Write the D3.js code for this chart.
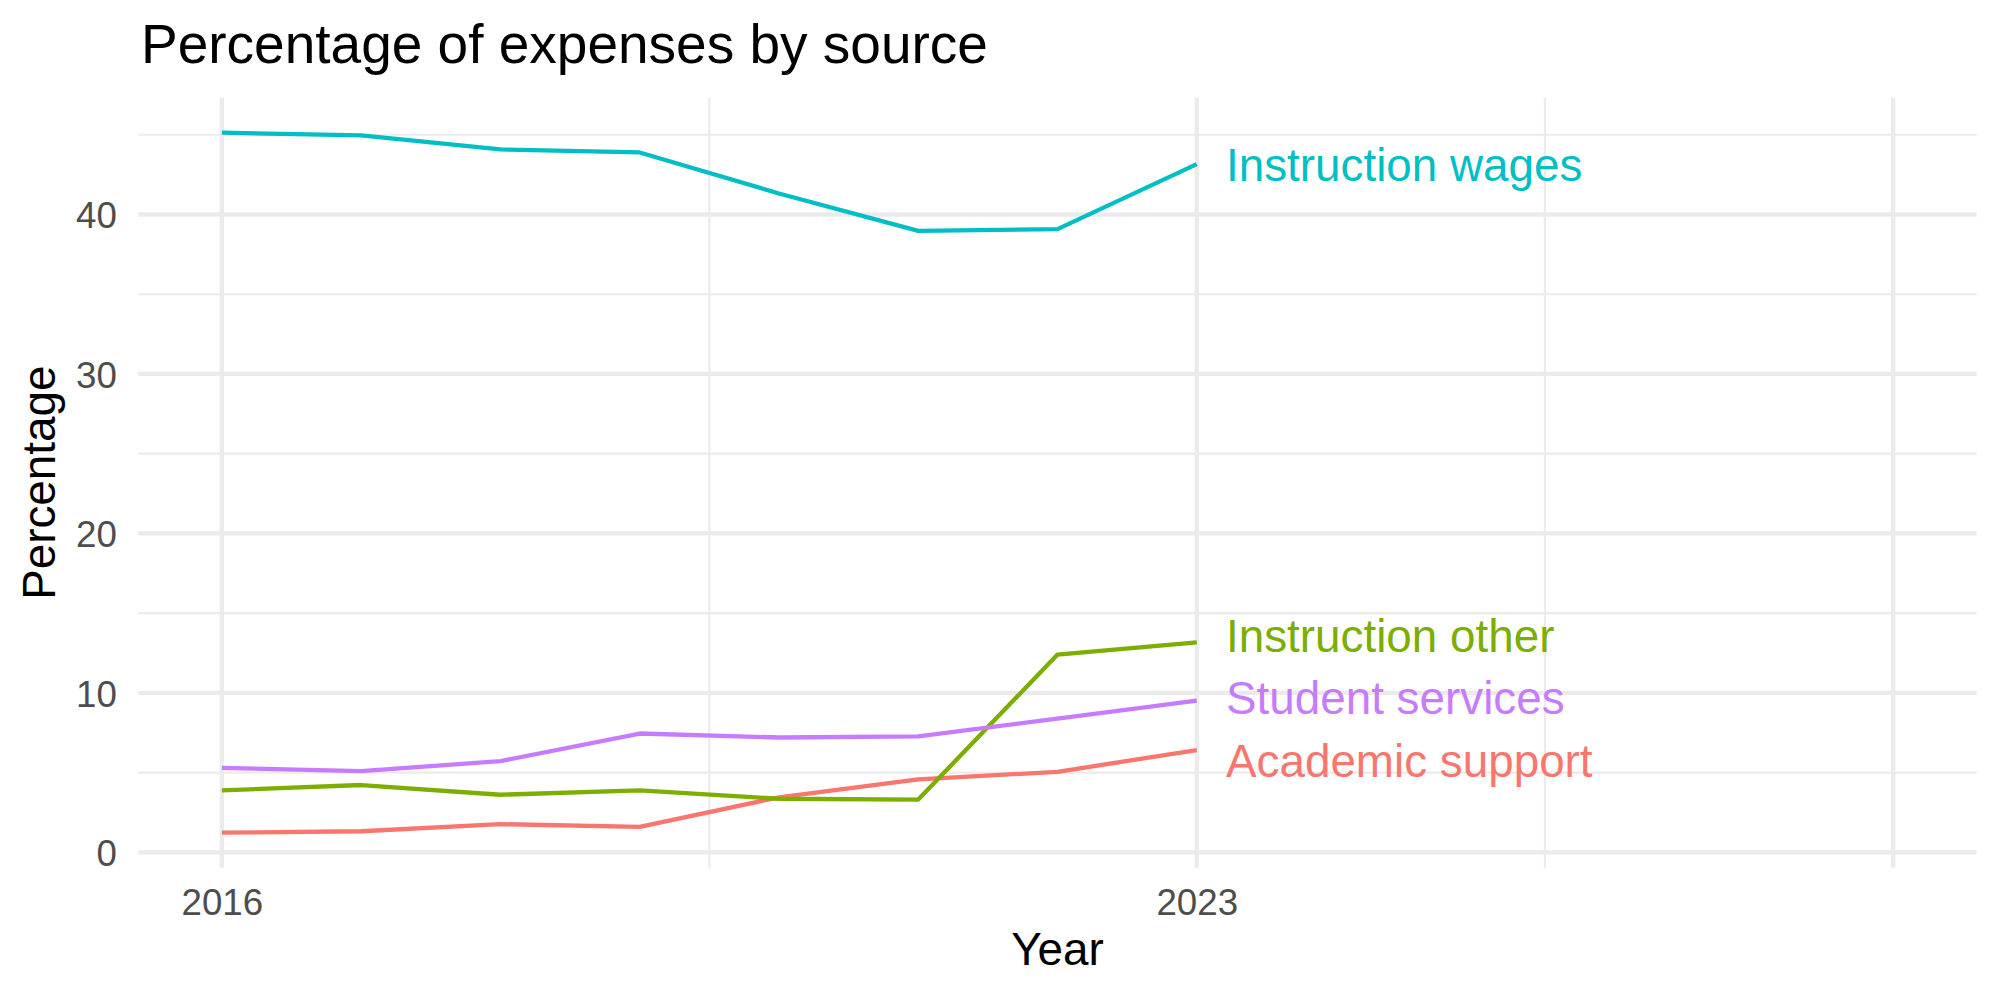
<!DOCTYPE html>
<html>
<head>
<meta charset="utf-8">
<script src="https://cdn.jsdelivr.net/npm/d3@7"></script>
<style>
  body { margin: 0; background: #fff; }
  text { font-family: "Liberation Sans", Arial, Helvetica, sans-serif; }
</style>
</head>
<body>
<div id="chart"></div>
<script>
/* expenses line chart */

// data
var years = [2016, 2017, 2018, 2019, 2020, 2021, 2022, 2023];
var sources = ["Academic support", "Instruction other", "Instruction wages", "Student services"];
var academicSupport  = [1.23, 1.32, 1.77, 1.59, 3.45, 4.57, 5.05, 6.41];
var instructionOther = [3.88, 4.22, 3.61, 3.88, 3.36, 3.31, 12.40, 13.17];
var instructionWages = [45.13, 44.96, 44.08, 43.89, 41.32, 38.97, 39.08, 43.16];
var studentServices  = [5.30, 5.09, 5.72, 7.45, 7.20, 7.27, 8.39, 9.52];
// where the end labels sit (percentage units)
var labelValues = [5.77, 13.6, 43.15, 9.73];
var labelYear = 2023.21;

var xMajor = [2016, 2023, 2028];
var xLabels = ["2016", "2023", ""];
var xMinor = [2019.5, 2025.5];
var yMajor = [0, 10, 20, 30, 40];
var yMinor = [5, 15, 25, 35, 45];

var colors = ["#F8766D", "#7CAE00", "#00BFC4", "#C77CFF"];

var seriesValues = [academicSupport, instructionOther, instructionWages, studentServices];
var series = sources.map(function (name, i) {
  return {
    name: name,
    color: colors[i],
    label: labelValues[i],
    values: years.map(function (yr, j) { return {year: yr, value: seriesValues[i][j]}; })
  };
});

// layout
var width = 2000, height = 1000;
var margin = {top: 97.7, right: 23.3, bottom: 132.3, left: 138.3};
var innerW = width - margin.left - margin.right,
    innerH = height - margin.top - margin.bottom;

var svg = d3.select("#chart").append("svg")
    .attr("width", width)
    .attr("height", height)
    .style("background", "#fff");

var g = svg.append("g")
    .attr("transform", "translate(" + margin.left + "," + margin.top + ")");

// scales, with ggplot style 5% expansion
var xExt = [2016, 2028];
var xPad = (xExt[1] - xExt[0]) * 0.05;
var x = d3.scaleLinear()
    .domain([xExt[0] - xPad, xExt[1] + xPad])
    .range([0, innerW]);

var allVals = d3.merge(seriesValues);
var yExt = d3.extent(allVals);
var yPad = (yExt[1] - yExt[0]) * 0.05;
var y = d3.scaleLinear()
    .domain([yExt[0] - yPad, yExt[1] + yPad])
    .range([innerH, 0]);

// grid
g.selectAll(".y-minor").data(yMinor).enter().append("line")
    .attr("x1", 0).attr("x2", innerW)
    .attr("y1", function (d) { return y(d); })
    .attr("y2", function (d) { return y(d); })
    .style("stroke", "#EBEBEB").style("stroke-width", 2.2);

g.selectAll(".x-minor").data(xMinor).enter().append("line")
    .attr("y1", 0).attr("y2", innerH)
    .attr("x1", function (d) { return x(d); })
    .attr("x2", function (d) { return x(d); })
    .style("stroke", "#EBEBEB").style("stroke-width", 2.2);

g.selectAll(".y-major").data(yMajor).enter().append("line")
    .attr("x1", 0).attr("x2", innerW)
    .attr("y1", function (d) { return y(d); })
    .attr("y2", function (d) { return y(d); })
    .style("stroke", "#EBEBEB").style("stroke-width", 4.3);

g.selectAll(".x-major").data(xMajor).enter().append("line")
    .attr("y1", 0).attr("y2", innerH)
    .attr("x1", function (d) { return x(d); })
    .attr("x2", function (d) { return x(d); })
    .style("stroke", "#EBEBEB").style("stroke-width", 4.3);

// axes (labels only)
var xAxis = g.append("g")
    .attr("transform", "translate(0," + innerH + ")")
    .call(d3.axisBottom(x).tickValues(xMajor)
      .tickFormat(function (d, i) { return xLabels[i]; })
      .tickSize(0).tickPadding(21.3));

var yAxis = g.append("g")
    .call(d3.axisLeft(y).tickValues(yMajor).tickSize(0).tickPadding(21.5));

[xAxis, yAxis].forEach(function (ax) {
  ax.select(".domain").remove();
  ax.selectAll("text")
    .attr("fill", "#4D4D4D")
    .style("font-size", "36.7px")
    .attr("font-family", null);
});
yAxis.selectAll("text").attr("dy", "0.36em");

// lines
var line = d3.line()
    .x(function (d) { return x(d.year); })
    .y(function (d) { return y(d.value); });

g.selectAll(".series").data(series).enter().append("path")
    .attr("class", "series")
    .attr("d", function (d) { return line(d.values); })
    .style("fill", "none")
    .style("stroke", function (d) { return d.color; })
    .style("stroke-width", 4.3)
    .style("stroke-linejoin", "round");

// end labels
g.selectAll(".end-label").data(series).enter().append("text")
    .attr("class", "end-label")
    .attr("x", x(labelYear))
    .attr("y", function (d) { return y(d.label); })
    .attr("dy", "0.36em")
    .attr("fill", function (d) { return d.color; })
    .style("font-size", "45.8px")
    .text(function (d) { return d.name; });

// titles
svg.append("text")
    .text("Percentage of expenses by source")
    .attr("x", 141)
    .attr("y", 63.3)
    .attr("fill", "#000")
    .style("font-size", "55px");

svg.append("text")
    .text("Year")
    .attr("x", margin.left + innerW / 2)
    .attr("y", 965)
    .attr("text-anchor", "middle")
    .attr("fill", "#000")
    .style("font-size", "45.8px");

svg.append("text")
    .text("Percentage")
    .attr("transform", "translate(55," + (margin.top + innerH / 2) + ") rotate(-90)")
    .attr("text-anchor", "middle")
    .attr("fill", "#000")
    .style("font-size", "45.8px");
</script>
</body>
</html>
